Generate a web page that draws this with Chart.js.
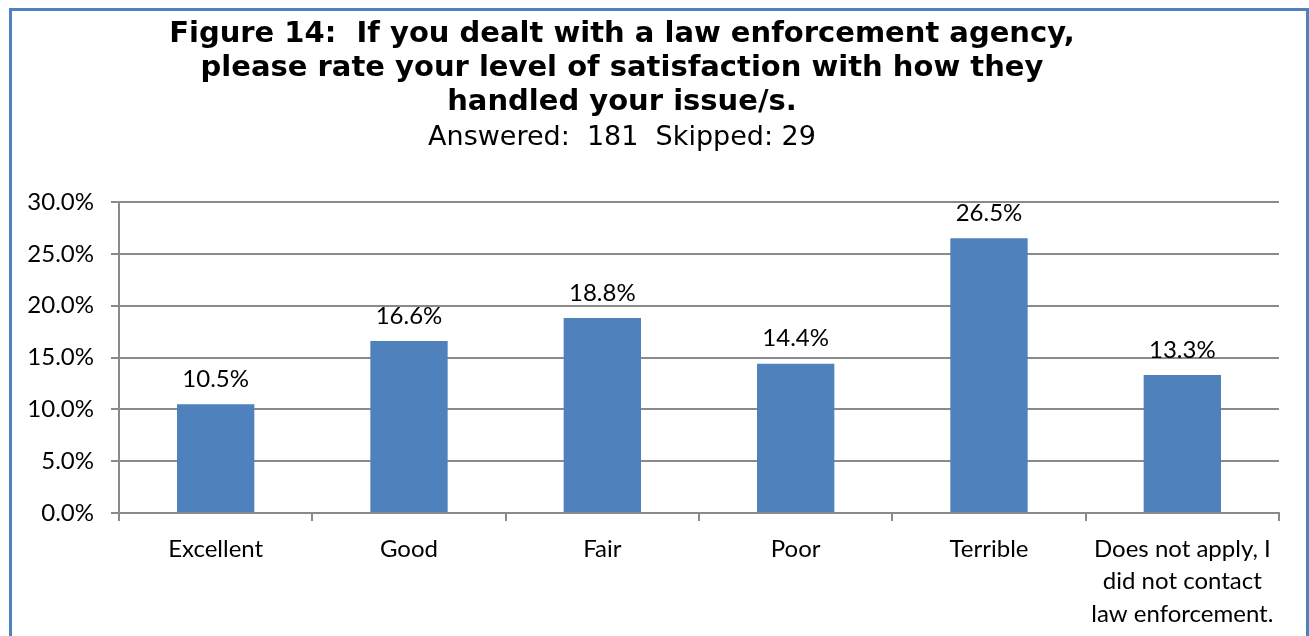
<!DOCTYPE html>
<html>
<head>
<meta charset="utf-8">
<style>
  html, body { margin: 0; padding: 0; background: #fff; }
  #wrap { position: relative; width: 1309px; height: 636px; }
</style>
<script src="https://cdn.jsdelivr.net/npm/chart.js@4.4.1/dist/chart.umd.min.js"></script>
</head>
<body>
<div id="wrap"><canvas id="lawChart"></canvas></div>
<script>
// ── Data ──────────────────────────────────────────────────────────────────────

const TITLE_LINES = [
  'Figure 14:  If you dealt with a law enforcement agency,',
  'please rate your level of satisfaction with how they',
  'handled your issue/s.',
];
const SUBTITLE = 'Answered:  181  Skipped: 29';

const CATEGORIES = [
  'Excellent',
  'Good',
  'Fair',
  'Poor',
  'Terrible',
  ['Does not apply, I', 'did not contact', 'law enforcement.'],
];
const PERCENTS = [10.5, 16.6, 18.8, 14.4, 26.5, 13.3];

const Y_MIN = 0;
const Y_MAX = 30;
const Y_STEP = 5;

// ── Style ─────────────────────────────────────────────────────────────────────

const BAR_BLUE   = '#4F81BD';
const FRAME_BLUE = '#4F81BD';
const GRID_GREY  = '#8a8a8a';
const LABEL_FONT = 'Lato, "Open Sans", sans-serif';

// ── Plugins ───────────────────────────────────────────────────────────────────

// blue outline round the whole figure
const framePlugin = {
  id: 'frame',
  afterDraw(chart) {
    const ctx = chart.ctx;
    ctx.save();
    ctx.strokeStyle = FRAME_BLUE;
    ctx.lineWidth = 3;
    ctx.strokeRect(10.5, 9.5, 1297, 700);
    ctx.restore();
  },
};

// heading block, centred a little left of the plot
const headingPlugin = {
  id: 'heading',
  afterDraw(chart) {
    const ctx = chart.ctx;
    const cx = 622;
    ctx.save();
    ctx.fillStyle = '#000';
    ctx.textAlign = 'center';
    ctx.textBaseline = 'alphabetic';
    ctx.font = 'bold 29px "DejaVu Sans", Verdana, sans-serif';
    const baselines = [42, 76, 110];
    TITLE_LINES.forEach((line, i) => ctx.fillText(line, cx, baselines[i]));
    ctx.font = '27px "DejaVu Sans", sans-serif';
    ctx.fillText(SUBTITLE, cx, 145);
    ctx.restore();
  },
};

// percentage above each bar
const valueLabelPlugin = {
  id: 'valueLabels',
  afterDatasetsDraw(chart) {
    const ctx = chart.ctx;
    const meta = chart.getDatasetMeta(0);
    ctx.save();
    ctx.fillStyle = '#000';
    ctx.textAlign = 'center';
    ctx.textBaseline = 'middle';
    ctx.font = `24px ${LABEL_FONT}`;
    meta.data.forEach((bar, i) => {
      ctx.fillText(`${PERCENTS[i].toFixed(1)}%`, bar.x, bar.y - 25);
    });
    ctx.restore();
  },
};

// ── Chart ─────────────────────────────────────────────────────────────────────

new Chart(document.getElementById('lawChart').getContext('2d'), {
  type: 'bar',
  data: {
    labels: CATEGORIES,
    datasets: [{
      data: PERCENTS,
      backgroundColor: BAR_BLUE,
      borderWidth: 0,
      barPercentage: 0.4,
      categoryPercentage: 1.0,
    }],
  },
  options: {
    responsive: true,
    maintainAspectRatio: false,
    animation: false,
    layout: { padding: { top: 202, right: 30, left: 0, bottom: 0 } },
    plugins: {
      legend: { display: false },
      title: { display: false },
      tooltip: { enabled: false },
    },
    scales: {
      x: {
        afterFit: s => { s.height = 123; },
        grid: {
          drawOnChartArea: false,
          drawTicks: true,
          tickLength: 8,
          color: GRID_GREY,
          lineWidth: 2,
        },
        border: { display: true, color: GRID_GREY, width: 2 },
        ticks: {
          color: '#000',
          font: { family: LABEL_FONT, size: 24, lineHeight: 1.35 },
          padding: 12,
          maxRotation: 0,
          autoSkip: false,
        },
      },
      y: {
        min: Y_MIN,
        max: Y_MAX,
        afterFit: s => { s.width = 119; },
        grid: {
          drawTicks: true,
          tickLength: 8,
          color: GRID_GREY,
          lineWidth: 2,
        },
        border: { display: true, color: GRID_GREY, width: 2 },
        ticks: {
          stepSize: Y_STEP,
          color: '#000',
          font: { family: LABEL_FONT, size: 24 },
          padding: 17,
          callback: v => `${v.toFixed(1)}%`,
        },
      },
    },
  },
  plugins: [valueLabelPlugin, headingPlugin, framePlugin],
});
</script>
</body>
</html>
